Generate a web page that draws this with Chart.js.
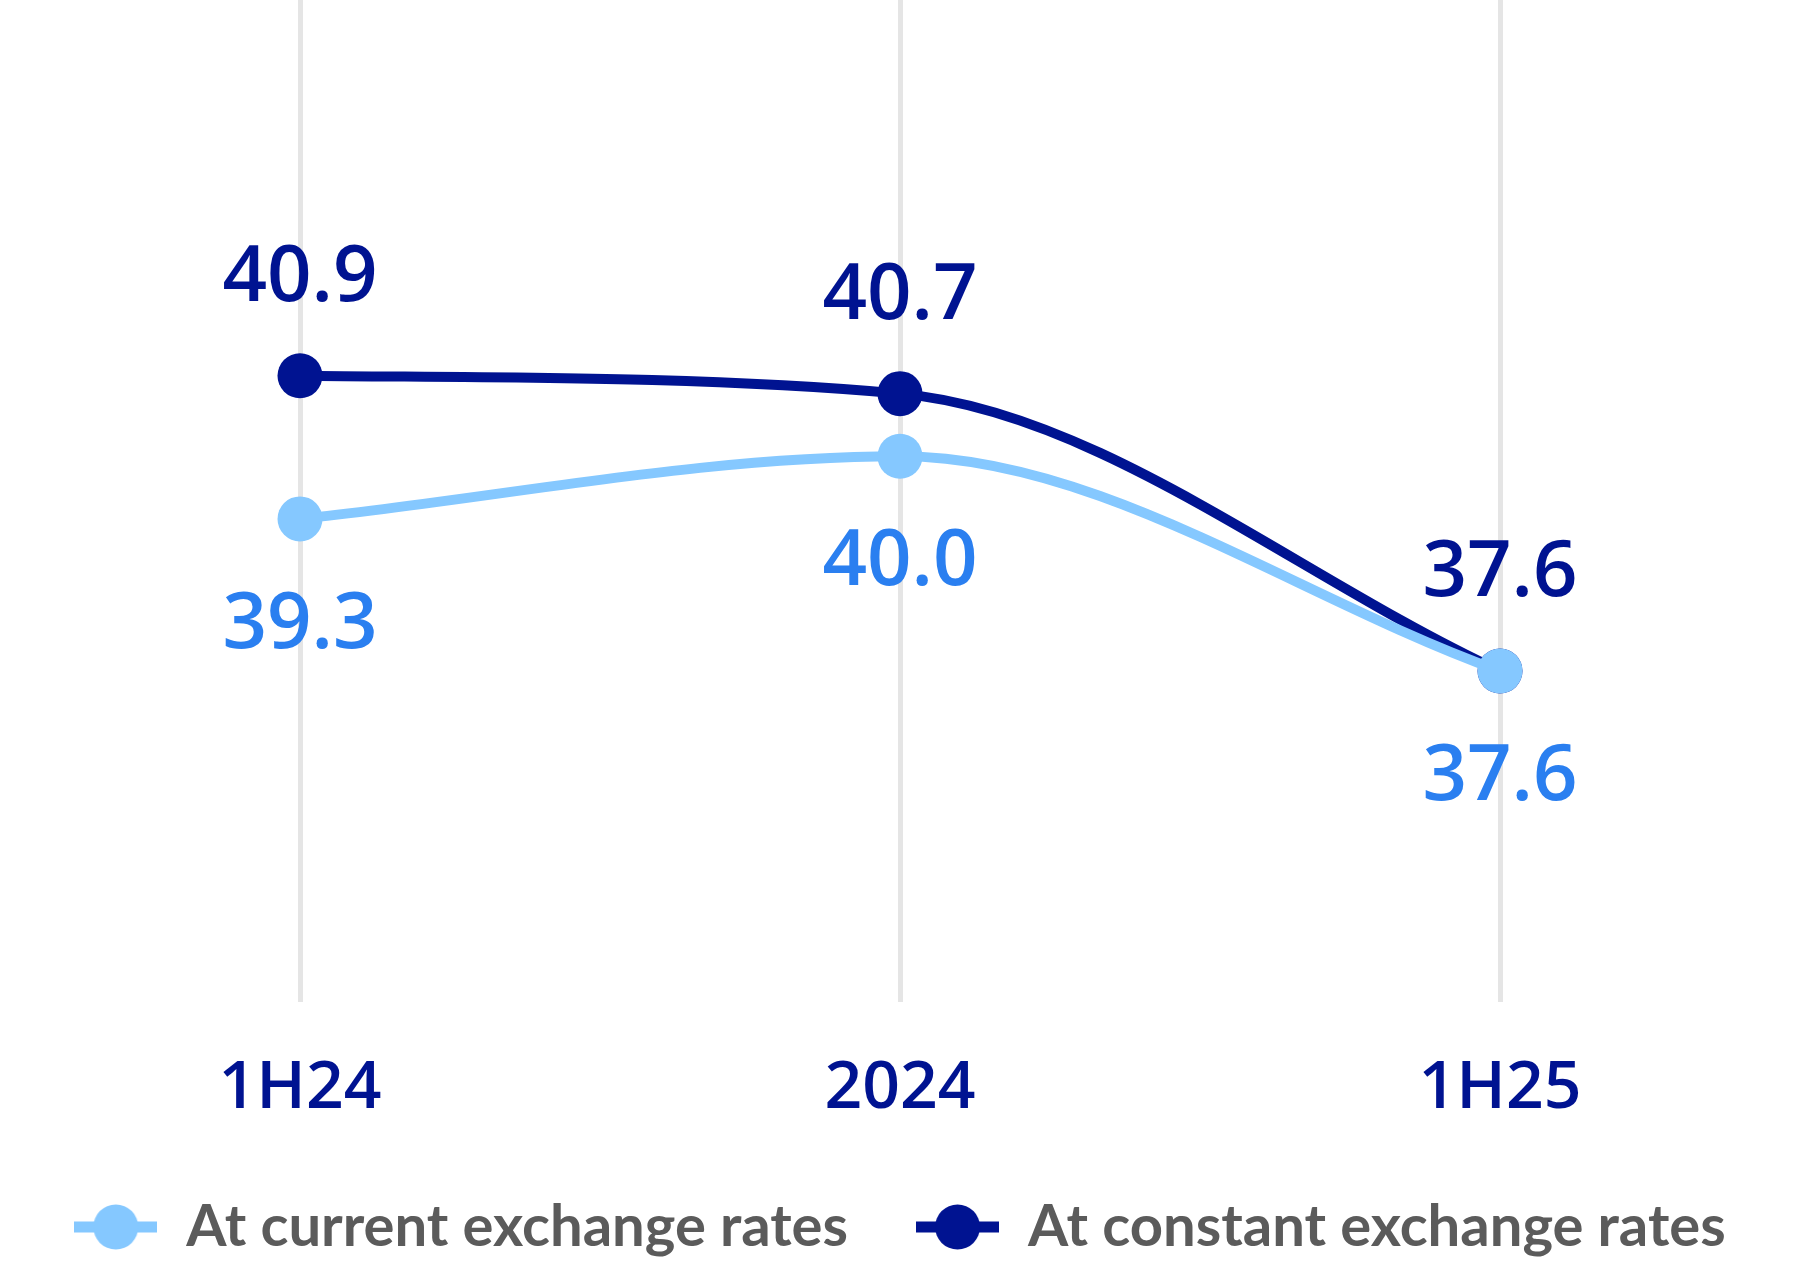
<!DOCTYPE html>
<html lang="en">
<head>
<meta charset="UTF-8">
<title>Exchange rates</title>
<script src="https://cdn.jsdelivr.net/npm/chart.js"></script>
<style>
  html, body { margin: 0; padding: 0; background: #fff; }
  #wrap { width: 1800px; height: 1266px; }
</style>
</head>
<body>
<div id="wrap"><canvas id="myChart"></canvas></div>
<script>
// Data
const labels = ['1H24', '2024', '1H25'];
const currentRates = [39.3, 40.0, 37.6];
const constantRates = [40.9, 40.7, 37.6];
const seriesNames = ['At current exchange rates', 'At constant exchange rates'];

const DARK = '#001391';
const LIGHT = '#85C8FF';
const LIGHT_TEXT = '#2A7FF0';

// legend marker: short line with a dot in the middle
function legendMarker(color) {
    const c = document.createElement('canvas');
    c.width = 83;
    c.height = 46;
    const g = c.getContext('2d');
    g.fillStyle = color;
    g.fillRect(0, 17.5, 83, 11);
    g.beginPath();
    g.arc(41.5, 23, 22.5, 0, Math.PI * 2);
    g.fill();
    return c;
}
const markers = [legendMarker(LIGHT), legendMarker(DARK)];

// value labels above / below each point
const valueLabels = {
    id: 'valueLabels',
    afterDatasetsDraw(chart) {
        const ctx = chart.ctx;
        ctx.save();
        ctx.font = '600 78px "Open Sans"';
        ctx.textAlign = 'center';
        ctx.textBaseline = 'middle';
        chart.data.datasets.forEach((ds, i) => {
            const meta = chart.getDatasetMeta(i);
            ctx.fillStyle = ds.labelColor;
            meta.data.forEach((pt, j) => {
                ctx.fillText(ds.data[j].toFixed(1), pt.x, pt.y + ds.labelOffset);
            });
        });
        ctx.restore();
    }
};

function draw() {
    const ctx = document.getElementById('myChart').getContext('2d');
    new Chart(ctx, {
        type: 'line',
        data: {
            labels: labels,
            datasets: [{
                label: seriesNames[0],
                data: currentRates,
                borderColor: LIGHT,
                backgroundColor: LIGHT,
                pointBackgroundColor: LIGHT,
                borderWidth: 10,
                pointRadius: 22.5,
                pointHoverRadius: 22.5,
                pointBorderWidth: 0,
                cubicInterpolationMode: 'monotone',
                clip: false,
                labelColor: LIGHT_TEXT,
                labelOffset: 107
            }, {
                label: seriesNames[1],
                data: constantRates,
                borderColor: DARK,
                backgroundColor: DARK,
                pointBackgroundColor: DARK,
                borderWidth: 10,
                pointRadius: 22.5,
                pointHoverRadius: 22.5,
                pointBorderWidth: 0,
                cubicInterpolationMode: 'monotone',
                clip: false,
                labelColor: DARK,
                labelOffset: -97
            }]
        },
        options: {
            responsive: true,
            maintainAspectRatio: false,
            devicePixelRatio: 1,
            animation: false,
            layout: { padding: 0, autoPadding: false },
            scales: {
                x: {
                    offset: true,
                    grid: { offset: false, color: '#E5E5E5', lineWidth: 5, drawTicks: false },
                    border: { display: false },
                    ticks: {
                        color: DARK,
                        padding: 36,
                        font: { family: 'Open Sans', weight: 600, size: 66, lineHeight: 1.545 }
                    },
                    afterFit(scale) { scale.height = 128; }
                },
                y: { display: false, min: 33.9, max: 45.1 }
            },
            plugins: {
                tooltip: { enabled: false },
                legend: {
                    position: 'bottom',
                    labels: {
                        usePointStyle: true,
                        pointStyleWidth: 83,
                        padding: 68,
                        color: '#5B5B5B',
                        font: { family: 'Lato', weight: 700, size: 58 },
                        generateLabels(chart) {
                            const items = Chart.defaults.plugins.legend.labels.generateLabels(chart);
                            items.forEach((it, i) => { it.pointStyle = markers[i]; });
                            return items;
                        }
                    }
                }
            }
        },
        plugins: [valueLabels]
    });
}

Promise.all([
    document.fonts.load('600 78px "Open Sans"'),
    document.fonts.load('700 58px Lato')
]).then(draw, draw);
</script>
</body>
</html>
